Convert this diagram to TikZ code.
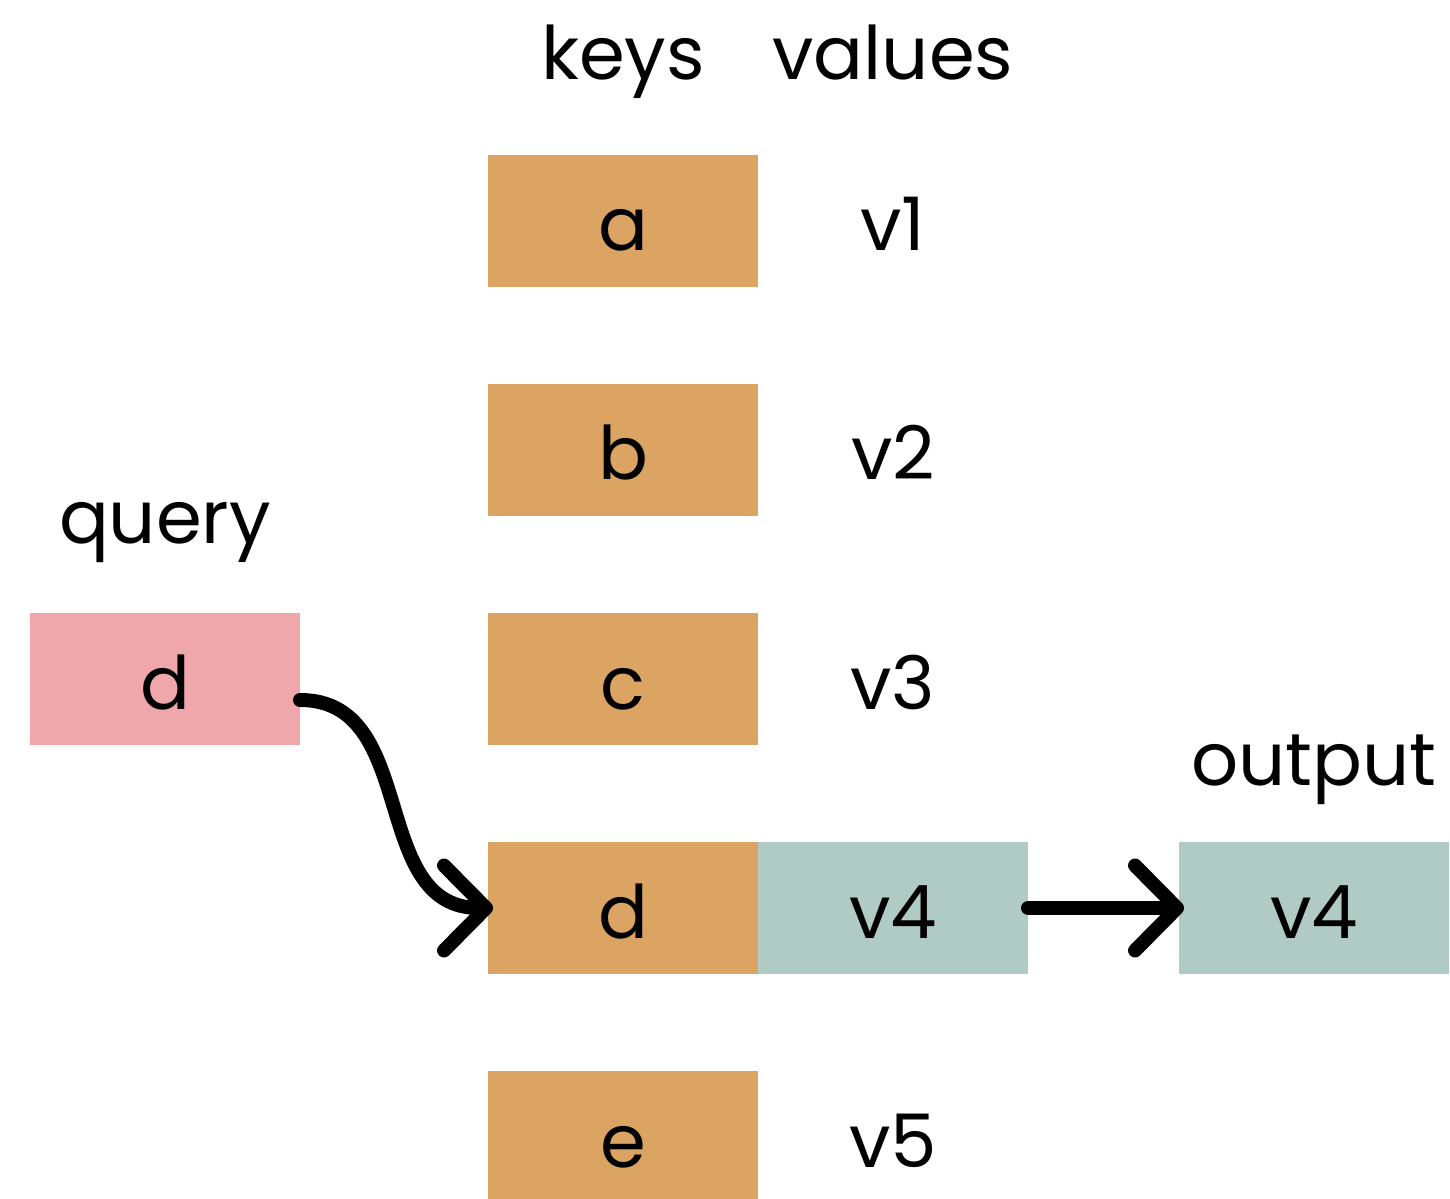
\documentclass[tikz,border=0pt]{standalone}
\usepackage{fontspec}
\setmainfont{Poppins}
\usetikzlibrary{arrows.meta,positioning}
\definecolor{keyorange}{RGB}{219,164,98}
\definecolor{querypink}{RGB}{240,167,171}
\definecolor{valteal}{RGB}{176,202,197}
\tikzset{
	keybox/.style={
		rectangle,
		fill=keyorange,
		minimum width=2.7cm,
		minimum height=1.32cm,
		inner sep=0pt,
		outer sep=0pt,
		text height=0.6cm,
		text depth=0cm,
		font=\fontsize{21}{25}\selectfont
	},
	valtext/.style={
		keybox,
		fill=none
	},
	head/.style={
		inner sep=0pt,
		outer sep=0pt,
		text depth=0cm,
		font=\fontsize{21}{25}\selectfont
	},
	link/.style={
		line width=0.14cm,
		line cap=round,
		shorten >=-0.05cm,
		-{Straight Barb[length=0.42cm,width=0.85cm,line cap=round,line join=round]}
	}
}
\begin{document}
\begin{tikzpicture}[node distance=0.97cm]
		\useasboundingbox (0,0) rectangle (14.5,-11.99);
		% keys column
		\node [keybox] (ka) at (6.23,-2.21) {a};
		\node [keybox] (kb) [below= of ka] {b};
		\node [keybox] (kc) [below= of kb] {c};
		\node [keybox] (kd) [below= of kc] {d};
		\node [keybox] (ke) [below= of kd] {e};
		% values column
		\node [valtext] (va) [right=0pt of ka] {v1};
		\node [valtext] (vb) [right=0pt of kb] {v2};
		\node [valtext] (vc) [right=0pt of kc] {v3};
		\node [valtext,fill=valteal] (vd) [right=0pt of kd] {v4};
		\node [valtext] (ve) [right=0pt of ke] {v5};
		\node [head] (keyshead) [above=0.75cm of ka] {keys};
		\node [head] (valshead) [above=0.75cm of va] {values};
		% query and output
		\node [keybox,fill=querypink,label={[head,label distance=0.70cm]above:query}] (q) [left=1.88cm of kc] {d};
		\node [valtext,fill=valteal,label={[head,label distance=0.57cm]above:output}] (out) [right=1.51cm of vd] {v4};
		\draw [link] ([yshift=-0.21cm]q.east) .. controls +(1.2,0) and +(-1.2,0) .. (kd.west);
		\draw [link] (vd.east) -- (out.west);
\end{tikzpicture}
\end{document}
